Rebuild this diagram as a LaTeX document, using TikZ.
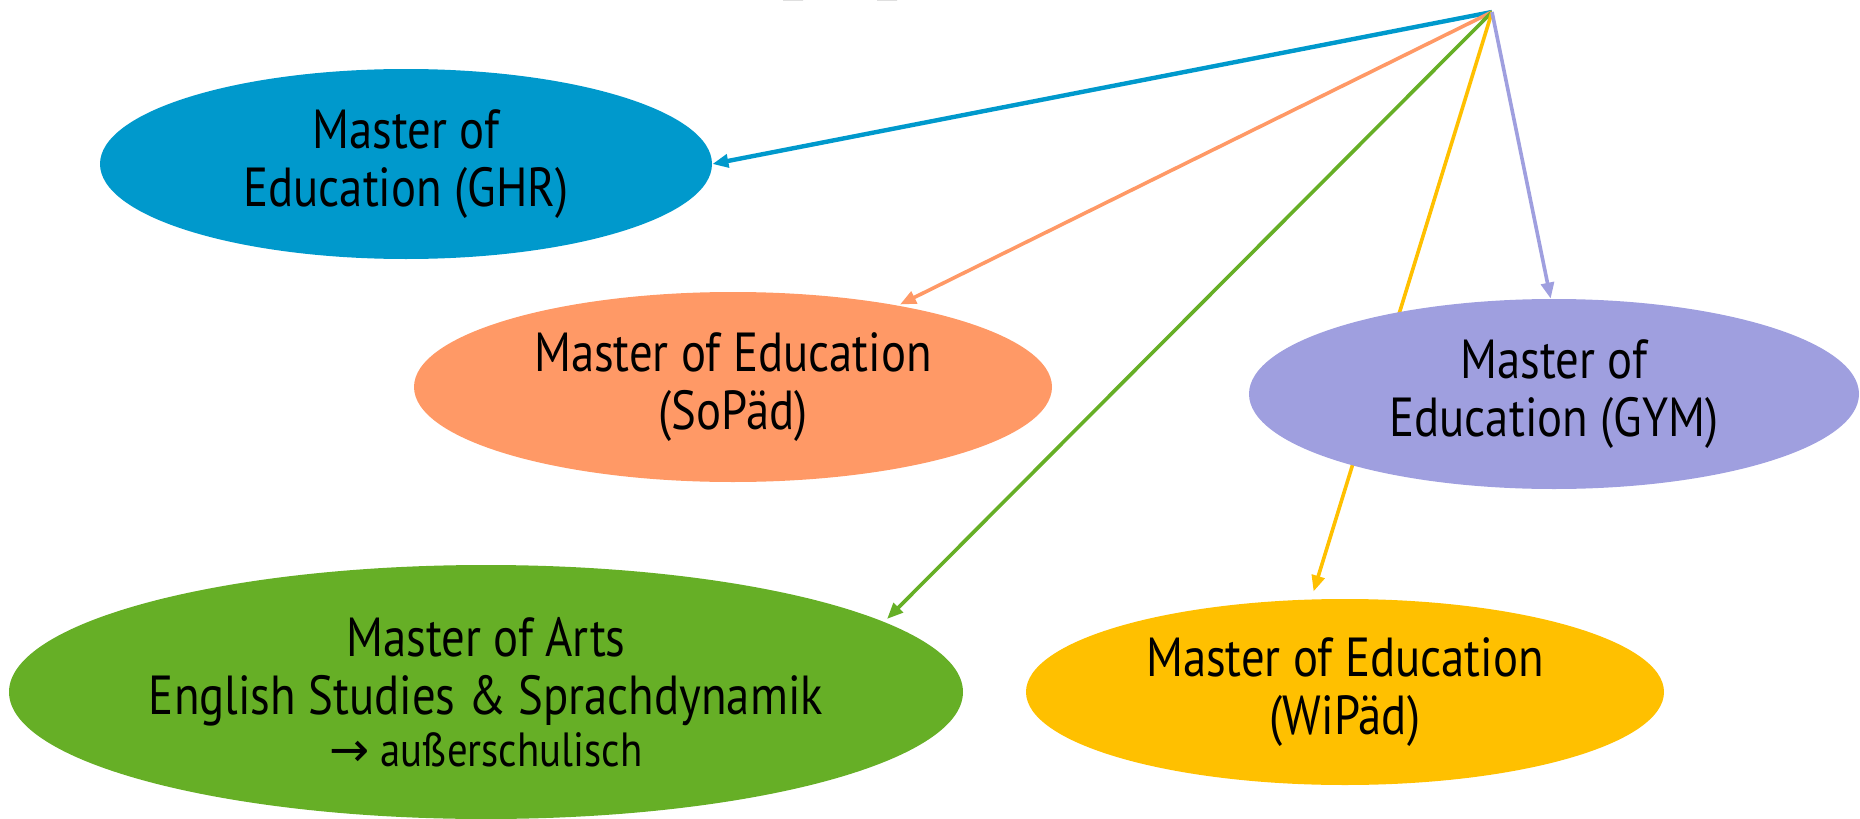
\documentclass[tikz,border=0pt]{standalone}
\usepackage{fontspec}
\setmainfont[FakeStretch=0.85]{PT Sans}
\newfontfamily\arrowfont{DejaVu Sans}
\usetikzlibrary{shapes.geometric}
\usetikzlibrary{arrows.meta}
\definecolor{ghrblue}{HTML}{0099CC}
\definecolor{sopaedorange}{HTML}{FF9966}
\definecolor{artsgreen}{HTML}{66AF26}
\definecolor{wipaedyellow}{HTML}{FFC000}
\definecolor{gymviolet}{HTML}{9F9FDF}

\begin{document}
\begin{tikzpicture}[x=0.5pt,y=-0.5pt,
  oval/.style={ellipse,inner sep=0pt,align=center,font=\fontsize{27.5}{29}\selectfont},
  pfeil/.style={line width=1.8pt,-{Triangle[length=8pt,width=6.5pt]}}]
  \useasboundingbox (0,0) rectangle (1860,819);
  \fill (783,0) arc (180:360:10 and 8) -- cycle;
  \fill (877,0) arc (180:360:10 and 8) -- cycle;
  \node[oval,fill=ghrblue,minimum width=306pt,minimum height=95pt] (ghr) at (406,164) {Master of\\Education (GHR)};
  \node[oval,fill=sopaedorange,minimum width=319pt,minimum height=95pt] (sopaed) at (733,387) {Master of Education\\(SoPäd)};
  \node[oval,fill=artsgreen,minimum width=477pt,minimum height=127pt] (arts) at (486,692) {Master of Arts\\English Studies \& Sprachdynamik\\[-3pt]{\fontsize{24}{28}\selectfont{\arrowfont →} außerschulisch}};
  \node[oval,fill=wipaedyellow,minimum width=319pt,minimum height=93pt] (wipaed) at (1345,692) {Master of Education\\(WiPäd)};
  \coordinate (top) at (1492,12);
  \draw[pfeil,ghrblue,line width=2.2pt] (top) -- (ghr.east);
  \draw[pfeil,sopaedorange,shorten >=1pt] (top) -- (sopaed);
  \draw[pfeil,artsgreen,shorten >=2pt] (top) -- (arts.10);
  \draw[pfeil,wipaedyellow,shorten >=4pt] (top) -- (wipaed.110);
  \node[oval,fill=gymviolet,minimum width=305pt,minimum height=95pt] (gym) at (1554,394) {Master of\\Education (GYM)};
  \draw[pfeil,gymviolet] (top) -- (gym.92);
\end{tikzpicture}
\end{document}
